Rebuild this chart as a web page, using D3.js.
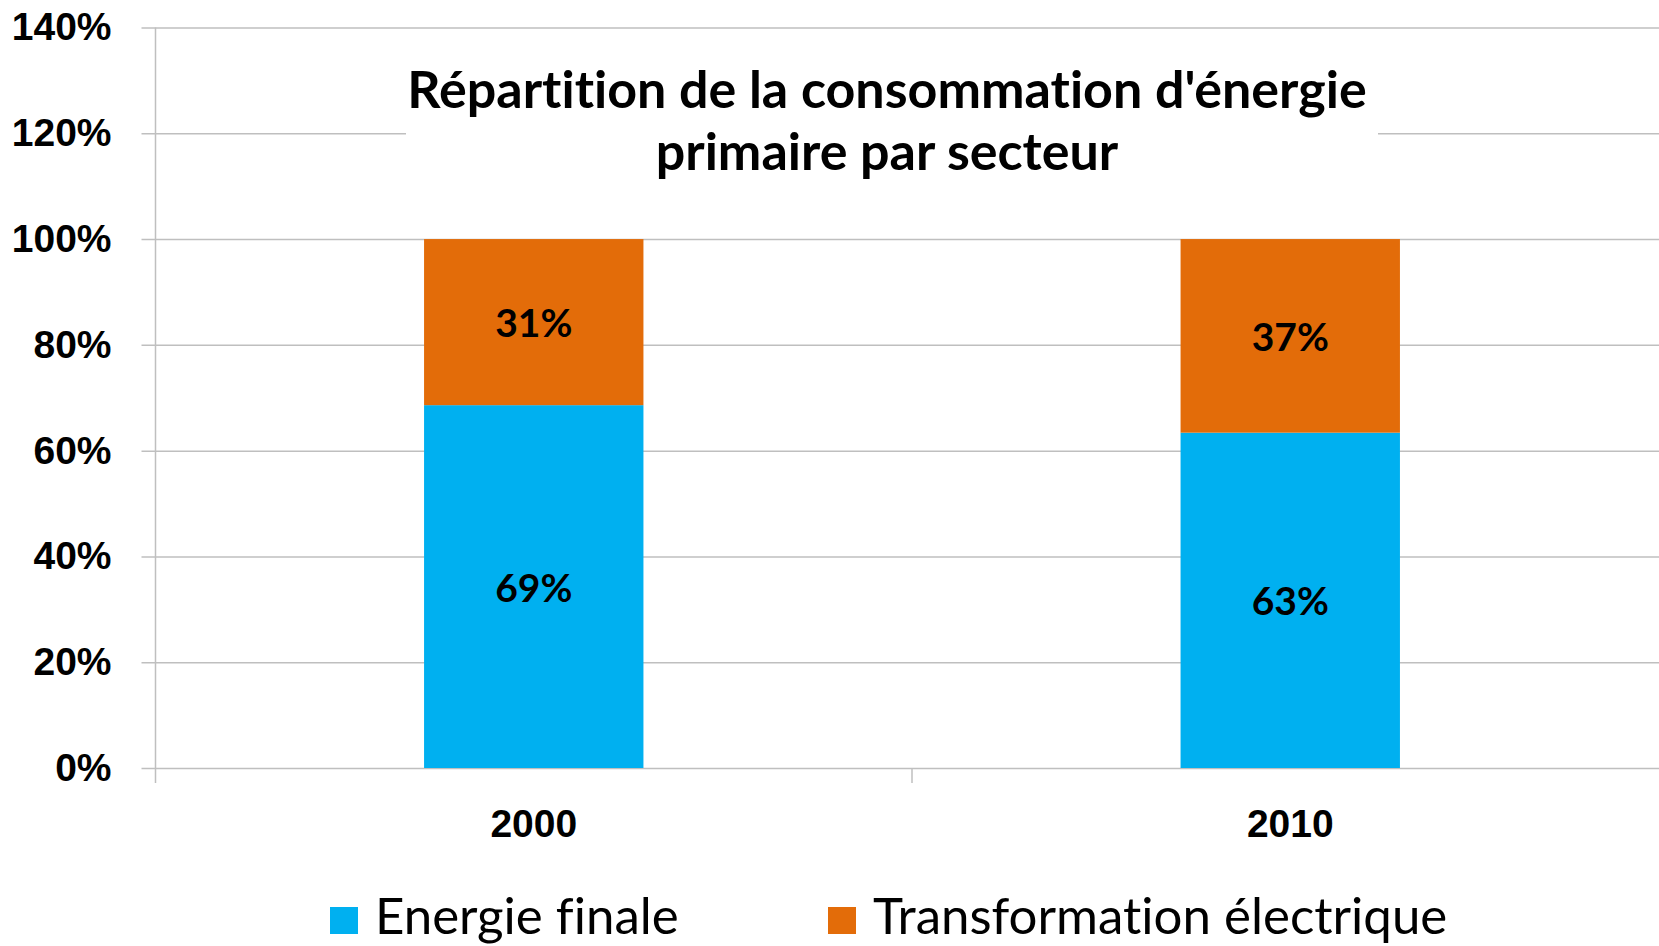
<!DOCTYPE html>
<html>
<head>
<meta charset="utf-8">
<script src="https://cdn.jsdelivr.net/npm/d3@7"></script>
<style>
  html, body { margin: 0; padding: 0; background: #fff; overflow: hidden; }
  svg { display: block; font-family: Lato, "Open Sans", sans-serif; font-variant-ligatures: none; }
</style>
</head>
<body>
<div id="chart"></div>
<script>
// chart data
const years = ['2000', '2010'];
const series = ['Energie finale', 'Transformation électrique'];
const energieFinale = [0.686, 0.634];
const transformationElec = [0.314, 0.366];
const yTicks = [0, 0.2, 0.4, 0.6, 0.8, 1.0, 1.2, 1.4];
const titleLines = ["Répartition de la consommation d'énergie", 'primaire par secteur'];

const colors = ['#00B0F0', '#E36C09'];
const gridColor = '#BFBFBF';

const width = 1659;
const height = 946;
const margin = { left: 155.5, right: -9.5, top: 27.5, bottom: 178 };
const plotW = width - margin.left - margin.right;
const plotH = height - margin.top - margin.bottom;

const svg = d3.select('#chart')
  .append('svg')
  .attr('width', width)
  .attr('height', height);

const y = d3.scaleLinear().domain([0, 1.4]).range([margin.top + plotH, margin.top]);

const xCat = d3.scaleBand().domain(years).range([margin.left, margin.left + plotW]).padding(0);
const xBar = d3.scaleBand().domain(years).range([margin.left, margin.left + plotW])
  .paddingInner(0.71).paddingOuter(0.355);

// Grid lines (extend a little left of the axis like Excel ticks)
const grid = svg.append('g')
  .attr('transform', `translate(${margin.left},0)`)
  .call(d3.axisLeft(y).tickValues(yTicks).tickSizeInner(-plotW).tickSizeOuter(0)
    .tickFormat(d3.format('.0%')).tickPadding(44));
grid.select('.domain').remove();
grid.selectAll('.tick line')
  .attr('x1', -14)
  .attr('stroke', gridColor)
  .attr('stroke-width', 1.5);
grid.selectAll('.tick text')
  .attr('fill', '#000')
  .style('font-size', '39px')
  .style('font-weight', 700);

// Vertical axis line
svg.append('line')
  .attr('x1', margin.left).attr('x2', margin.left)
  .attr('y1', y(1.4)).attr('y2', y(0) + 15)
  .attr('stroke', gridColor).attr('stroke-width', 1.5);

// Category boundary ticks
svg.append('g').selectAll('line')
  .data(years.slice(1))
  .join('line')
  .attr('x1', d => xCat(d)).attr('x2', d => xCat(d))
  .attr('y1', y(0)).attr('y2', y(0) + 15)
  .attr('stroke', gridColor).attr('stroke-width', 1.5);

// Category labels
const xAxis = svg.append('g')
  .attr('transform', `translate(0,${y(0)})`)
  .call(d3.axisBottom(xCat).tickSize(0).tickPadding(41));
xAxis.select('.domain').remove();
xAxis.selectAll('.tick text')
  .attr('fill', '#000')
  .style('font-size', '39px')
  .style('font-weight', 700);

// Stacked data
const rows = years.map((yr, i) => ({ year: yr, a: energieFinale[i], b: transformationElec[i] }));
const stacked = d3.stack().keys(['a', 'b'])(rows);

const layers = svg.append('g').selectAll('g')
  .data(stacked)
  .join('g')
  .attr('fill', (d, i) => colors[i]);

layers.selectAll('rect')
  .data(d => d)
  .join('rect')
  .attr('x', d => xBar(d.data.year))
  .attr('width', xBar.bandwidth())
  .attr('y', d => y(d[1]))
  .attr('height', d => y(d[0]) - y(d[1]));

// Data labels
layers.selectAll('text')
  .data(d => d)
  .join('text')
  .attr('x', d => xBar(d.data.year) + xBar.bandwidth() / 2)
  .attr('y', d => (y(d[0]) + y(d[1])) / 2)
  .attr('text-anchor', 'middle')
  .attr('dominant-baseline', 'central')
  .attr('fill', '#000')
  .style('font-size', '39px')
  .style('font-weight', 700)
  .text(d => d3.format('.0%')(d[1] - d[0]));

// Title with white box behind it
const titleG = svg.append('g');
titleG.append('rect')
  .attr('x', 406).attr('y', 50)
  .attr('width', 972).attr('height', 135)
  .attr('fill', '#fff');
titleG.selectAll('text')
  .data(titleLines)
  .join('text')
  .attr('x', 887)
  .attr('y', (d, i) => 108 + i * 62)
  .attr('text-anchor', 'middle')
  .attr('fill', '#000')
  .style('font-size', '52px')
  .style('font-weight', 700)
  .text(d => d);

// Legend
const legendX = [330, 828];
const legend = svg.append('g').selectAll('g')
  .data(series)
  .join('g')
  .attr('transform', (d, i) => `translate(${legendX[i]},907)`);
legend.append('rect')
  .attr('width', 28).attr('height', 27)
  .attr('fill', (d, i) => colors[i]);
legend.append('text')
  .attr('x', 45)
  .attr('y', 27)
  .attr('fill', '#000')
  .style('font-size', '51px')
  .text(d => d);
</script>
</body>
</html>
